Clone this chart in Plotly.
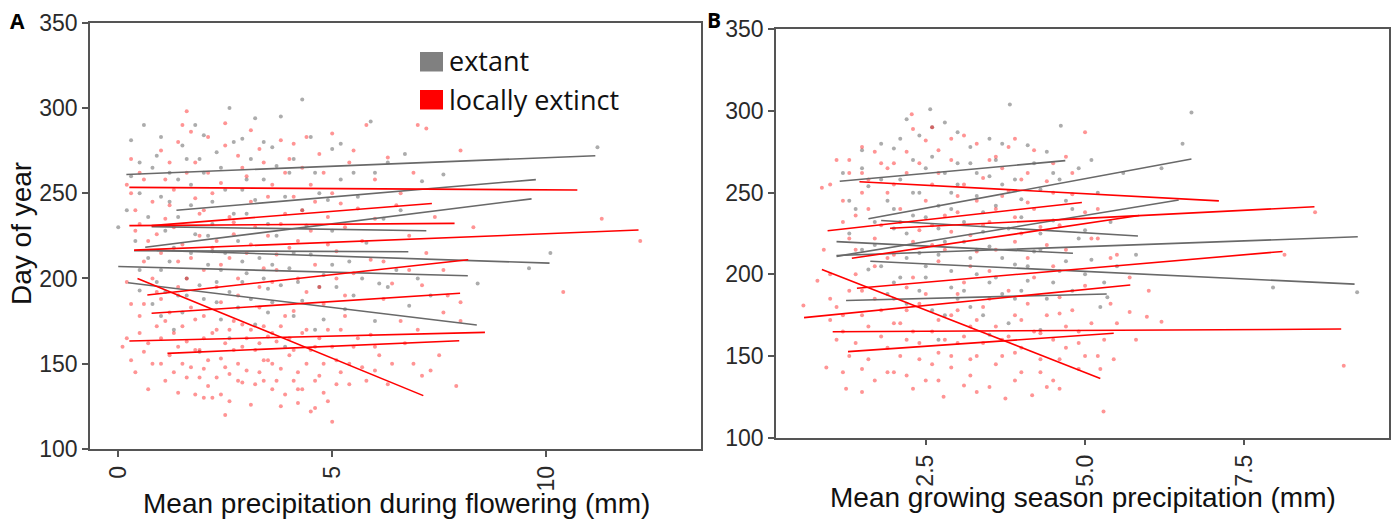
import plotly.graph_objects as go

# ---------------- Panel A: regression lines (precip during flowering) ----------------
A_gray_x0 = [0.19, 1.36, 0.63, 0.78, 0.37, 0.90, 0.00, 0.23]
A_gray_x1 = [11.15, 9.76, 9.66, 7.20, 6.78, 10.08, 8.17, 8.38]
A_gray_y0 = [261.0, 240.0, 218.3, 230.4, 216.3, 216.5, 207.0, 197.5]
A_gray_y1 = [272.0, 258.0, 246.7, 228.0, 215.7, 209.0, 201.6, 172.7]

A_red_x0 = [0.26, 0.78, 0.26, 0.37, 0.68, 0.78, 0.26, 1.15, 0.45]
A_red_x1 = [10.73, 7.33, 7.86, 12.16, 8.18, 7.99, 8.57, 7.97, 7.13]
A_red_y0 = [253.4, 231.0, 231.0, 216.6, 190.3, 179.6, 163.3, 156.1, 200.0]
A_red_y1 = [251.9, 244.0, 232.3, 228.4, 211.0, 191.3, 168.4, 163.5, 131.3]

# ---------------- Panel B: regression lines (growing season precip) ----------------
B_gray_x0 = [1.15, 1.60, 1.10, 1.80, 1.10, 1.63, 1.25, 1.10]
B_gray_x1 = [4.69, 6.67, 6.47, 5.83, 9.28, 9.23, 5.34, 4.81]
B_gray_y0 = [257.0, 234.0, 211.0, 233.0, 211.5, 208.0, 184.0, 220.0]
B_gray_y1 = [269.6, 270.6, 245.5, 223.5, 223.0, 194.0, 188.0, 212.9]

B_red_x0 = [1.46, 0.96, 1.94, 1.34, 1.42, 0.59, 1.04, 1.28, 0.87]
B_red_x1 = [7.10, 4.95, 8.60, 5.85, 8.10, 5.71, 9.02, 5.45, 5.24]
B_red_y0 = [256.7, 226.7, 228.2, 209.8, 191.5, 173.5, 164.9, 152.7, 203.0]
B_red_y1 = [245.0, 244.0, 241.4, 236.0, 214.0, 193.5, 166.5, 163.9, 136.3]

# ---------------- Panel A: observations ----------------
A_red_pts = [
    (0.5,262),(0.6,258),(0.3,250),(0.4,240),(1.0,275),(1.2,268),(1.5,290),(1.7,286),(2.1,283),(2.5,278),
    (2.8,272),(3.3,276),(3.8,281),(4.0,270),(4.3,265),(4.7,273),(5.0,285),(5.4,268),(5.8,290),(6.3,271),
    (6.9,262),(7.0,290),(7.2,288),(8.0,275),(0.8,245),(1.3,252),(1.8,247),(2.4,256),(3.0,260),(3.5,248),
    (4.5,255),(5.2,244),(6.0,258),(6.6,250),(1.1,235),(2.0,240),(2.7,233),(3.9,238),(4.9,236),(5.6,241),
    (7.4,236),(8.3,230),(11.3,235),(12.2,222),(10.4,192),(1.6,298),(3.1,287),(4.1,279),
    (0.4,228),(0.7,222),(1.0,215),(1.4,210),(1.9,225),(2.2,218),(2.6,212),(3.1,220),(3.4,206),(3.7,214),
    (4.2,222),(4.6,208),(5.1,216),(5.5,203),(5.9,211),(6.4,197),(6.8,205),(7.1,196),(7.7,190),(0.2,198),
    (0.9,192),(1.6,200),(2.3,195),(3.6,198),(4.4,192),(5.3,190),(6.2,188),(8.0,186),
    (0.1,160),(0.2,165),(0.5,178),(0.6,185),(0.9,172),(0.4,145),(0.7,135),(1.2,180),(1.3,168),(1.4,160),
    (1.5,150),(1.6,142),(1.8,176),(1.9,158),(2.0,147),(2.1,137),(2.2,130),(2.3,170),(2.4,153),(2.5,162),
    (2.6,144),(2.7,175),(2.8,150),(2.9,139),(3.0,165),(3.1,126),(3.2,158),(3.3,145),(3.4,172),(3.5,152),
    (3.6,135),(3.7,163),(3.8,147),(3.9,178),(4.0,155),(4.1,140),(4.2,127),(4.3,168),(4.4,150),(4.5,122),
    (4.6,160),(4.7,143),(4.8,133),(4.9,170),(5.0,116),(5.1,152),(5.2,145),(5.3,178),(5.5,160),(5.7,148),
    (5.9,167),(6.1,155),(6.3,138),(6.6,175),(6.9,150),(7.1,143),(7.3,146),(7.6,180),(7.9,137),(8.0,175),
    (1.0,188),(1.7,183),(2.4,186),(3.3,183),(4.1,181),(4.8,185),(2.0,165),(2.9,173),(3.6,168),(1.1,140),
    (0.3,152),(0.6,157),(1.8,132),(2.6,128),(3.4,140),(4.2,135),(5.4,138),(6.0,146),(1.4,195),(2.8,190),
    (0.2,255),(0.3,270),(0.5,232),(0.6,210),(0.8,200),(0.9,226),(1.1,258),(1.2,243),(1.3,230),(1.4,280),
    (1.5,220),(1.6,262),(1.7,212),(1.8,268),(1.9,238),(2.0,205),(2.1,262),(2.2,250),(2.3,222),(2.4,208),
    (2.5,291),(2.6,236),(2.7,226),(2.8,200),(2.9,265),(3.0,215),(3.1,245),(3.2,230),(3.3,195),(3.4,268),
    (3.5,225),(3.6,255),(3.7,205),(3.8,232),(3.9,262),(4.0,218),(4.1,248),(4.2,200),(4.3,240),(4.4,283),
    (4.5,228),(4.6,245),(4.7,195),(4.8,262),(4.9,220),(5.0,250),(5.1,200),(5.3,230),(5.5,275),(5.7,222),
    (6.0,235),(6.2,210),(6.5,243),(6.8,225),(7.2,215),(7.6,205),
    (0.3,185),(0.5,168),(0.7,162),(0.8,150),(1.0,165),(1.1,175),(1.2,155),(1.3,145),(1.4,133),(1.5,172),
    (1.6,163),(1.7,148),(1.8,158),(1.9,142),(2.0,178),(2.1,152),(2.2,168),(2.3,142),(2.4,132),(2.5,148),
    (2.6,170),(2.7,158),(2.8,140),(2.9,160),(3.0,146),(3.1,170),(3.2,138),(3.3,162),(3.4,152),(3.5,166),
    (3.6,150),(3.7,140),(3.8,172),(3.9,132),(4.0,165),(4.1,158),(4.2,145),(4.3,135),(4.4,170),(4.5,158),
    (4.6,140),(4.7,165),(4.8,150),(4.9,128),(5.0,160),(5.1,138),(5.2,170),(5.4,150),(5.6,165),(5.8,140),
    (6.0,160),(6.4,150),(6.7,162),(7.0,170),(7.5,155),(2.5,120),(3.8,125),(4.6,124),(1.0,150),(2.0,130),
]
A_gray_pts = [
    (0.0,230),(0.2,240),(0.3,281),(0.5,268),(0.6,290),(0.9,272),(1.0,248),(1.2,262),(1.4,236),(1.5,278),
    (1.7,255),(1.9,270),(2.0,284),(2.2,245),(2.4,265),(2.6,300),(2.7,280),(2.9,252),(3.1,270),(3.2,294),
    (3.4,258),(3.6,277),(3.8,295),(4.0,262),(4.3,305),(4.5,283),(4.7,250),(5.0,276),(5.2,279),(5.5,262),
    (5.9,292),(6.3,268),(6.7,273),(7.1,257),(7.6,261),(11.2,277),
    (0.4,222),(0.7,212),(1.0,205),(1.3,218),(1.6,200),(1.8,226),(2.1,208),(2.3,198),(2.5,215),(2.8,222),
    (3.0,203),(3.3,212),(3.5,194),(3.7,225),(4.0,206),(4.2,198),(4.5,214),(4.8,202),(5.1,195),(5.4,210),
    (5.7,200),(6.1,197),(6.5,205),(6.8,184),(7.3,190),(8.4,197),(9.6,206),(10.1,215),
    (0.8,185),(1.1,192),(1.5,180),(2.0,188),(2.4,176),(2.8,183),(3.2,173),(3.6,186),(4.1,178),(4.6,170),
    (5.3,182),(6.0,175),(1.3,170),(2.6,165),(3.9,160),(1.9,157),(0.5,193),(2.2,232),(3.0,238),(4.4,231),
    (5.0,228),(5.8,221),(6.2,235),(1.7,243),
    (0.3,260),(0.5,250),(0.7,236),(0.8,265),(1.0,283),(1.1,228),(1.2,245),(1.4,258),(1.6,270),(1.8,290),
    (2.0,262),(2.1,225),(2.3,274),(2.5,252),(2.7,238),(2.9,282),(3.0,258),(3.2,246),(3.4,280),(3.5,232),
    (3.7,266),(3.9,248),(4.1,270),(4.3,240),(4.6,262),(4.9,246),(5.2,258),(5.6,248),(6.0,262),(6.6,240),
    (0.5,205),(0.9,198),(1.2,210),(1.4,190),(1.7,215),(1.9,196),(2.2,216),(2.4,205),(2.6,192),(2.9,210),
    (3.1,188),(3.4,200),(3.6,208),(3.8,196),(4.1,215),(4.3,187),(4.7,195),(5.0,208),(5.5,190),(6.3,195),
    (7.0,200),(1.0,178),(2.3,186),(3.5,180),(4.8,176),(1.6,190),(2.9,198),
]

# ---------------- Panel B: observations ----------------
B_red_pts = [
    (1.1,270),(1.3,262),(1.5,278),(1.7,275),(2.0,268),(2.3,289),(2.5,282),(2.7,276),(2.9,270),(3.1,285),
    (3.3,280),(3.6,272),(3.9,283),(4.2,276),(4.5,268),(4.7,272),(2.28,298),(5.0,287),(0.87,253),(1.2,245),
    (1.6,258),(1.9,250),(2.2,262),(2.6,255),(3.0,248),(3.4,259),(3.8,251),(4.1,244),(4.4,257),(4.8,249),
    (5.2,240),(1.4,236),(1.8,230),(2.1,240),(2.4,227),(2.8,236),(3.2,224),(3.5,232),(3.9,220),(4.3,229),
    (4.7,215),(5.1,222),(5.5,212),(8.61,238),(8.13,212),(0.9,215),(1.3,222),(1.7,205),(2.0,212),(2.3,198),
    (2.7,208),(3.1,195),(3.5,202),(3.8,190),(4.2,198),(4.6,186),(5.0,193),(5.4,182),(5.7,177),(6.2,171),
    (5.97,174),(0.58,181),(0.8,196),(1.0,185),(1.2,175),(1.5,190),(1.8,178),(2.1,170),(2.4,182),(2.6,165),
    (2.9,175),(3.2,168),(3.4,180),(3.7,160),(4.0,172),(4.3,164),(4.6,176),(4.9,158),(5.2,150),(1.1,160),
    (1.3,150),(1.5,142),(1.6,168),(1.9,155),(2.0,140),(2.2,160),(2.4,148),(2.5,135),(2.7,152),(2.78,125),
    (2.9,143),(3.0,158),(3.2,138),(3.3,150),(3.5,131),(3.6,145),(3.75,124),(3.9,152),(4.0,140),(4.17,126),
    (4.3,148),(4.5,135),(4.7,155),(4.9,142),(5.24,142),(5.45,148),(5.29,116),(1.25,130),(0.94,143),(9.06,144),
    (1.7,135),(2.3,130),(3.1,132),(4.4,131),(2.0,185),(3.0,188),(4.5,205),(2.6,218),(1.5,250),(3.7,265),
    (4.0,258),(1.0,200),(1.4,200),(2.2,192),(3.3,214),(4.1,210),(2.9,226),(3.6,240),(1.9,265),(2.6,290),
    (1.0,255),(1.2,232),(1.3,270),(1.4,215),(1.5,262),(1.6,240),(1.7,222),(1.8,268),(1.9,210),(2.0,255),
    (2.1,232),(2.2,275),(2.3,220),(2.4,268),(2.5,245),(2.6,230),(2.7,262),(2.8,215),(2.9,283),(3.0,238),
    (3.1,255),(3.2,205),(3.3,245),(3.4,230),(3.5,270),(3.6,215),(3.7,248),(3.8,278),(3.9,235),(4.0,225),
    (4.1,262),(4.2,240),(4.4,218),(4.5,250),(4.6,230),(4.8,262),(5.0,238),(5.2,222),(5.4,210),(5.7,198),
    (6.0,190),
    (1.0,172),(1.1,180),(1.2,165),(1.3,190),(1.4,158),(1.5,175),(1.6,148),(1.7,185),(1.8,162),(1.9,140),
    (2.0,170),(2.1,150),(2.2,178),(2.3,165),(2.4,158),(2.5,188),(2.6,145),(2.7,172),(2.8,160),(2.9,150),
    (3.0,178),(3.1,162),(3.2,148),(3.3,172),(3.4,158),(3.5,185),(3.6,168),(3.7,150),(3.8,162),(3.9,175),
    (4.0,155),(4.1,182),(4.2,165),(4.3,140),(4.4,175),(4.5,160),(4.6,148),(4.7,168),(4.8,178),(4.9,165),
    (5.0,150),(5.1,170),(5.3,160),(5.5,170),(5.8,160),(1.5,128),(2.2,138),(3.3,128),(3.9,135),(4.6,130),
    (2.7,135),(1.2,140),
]
B_gray_pts = [
    (3.82,304),(2.57,301),(6.67,299),(6.53,280),(4.62,291),(2.2,295),(2.8,293),(3.0,287),(2.4,285),(1.8,280),
    (1.5,276),(2.0,277),(2.6,272),(3.2,278),(3.5,283),(4.1,279),(4.4,275),(3.6,270),(4.9,265),(5.6,262),
    (5.1,270),(1.2,262),(1.6,254),(2.1,258),(2.5,265),(2.9,250),(3.3,262),(3.7,255),(4.0,246),(4.3,252),
    (4.8,240),(1.4,240),(1.9,245),(2.3,236),(2.7,242),(3.1,232),(3.4,238),(3.8,228),(4.5,233),(5.0,227),
    (1.3,225),(1.7,218),(2.0,228),(2.4,213),(2.8,220),(3.2,210),(3.5,217),(3.9,206),(4.2,214),(4.6,202),
    (5.1,209),(5.8,212),(1.6,203),(2.1,198),(2.5,205),(2.9,192),(3.3,200),(3.7,188),(4.1,196),(4.4,185),
    (4.8,190),(5.35,186),(5.24,180),(5.3,195),(7.95,192),(9.27,189),(2.2,182),(2.6,178),(3.0,185),(3.4,175),
    (1.9,188),(3.8,170),(4.3,166),(2.7,160),(3.5,163),(2.3,250),(3.0,268),(4.6,258),(5.4,232),(6.2,265),
    (1.3,245),(1.5,265),(1.7,232),(1.8,258),(2.0,240),(2.1,283),(2.2,225),(2.3,270),(2.4,250),(2.5,235),
    (2.6,290),(2.7,228),(2.8,262),(2.9,240),(3.0,255),(3.1,220),(3.2,268),(3.3,248),(3.4,226),(3.5,260),
    (3.6,242),(3.7,280),(3.9,258),(4.0,235),(4.2,268),(4.3,225),(4.5,262),(4.7,245),(4.9,222),(5.2,250),
    (1.5,215),(1.8,205),(2.0,195),(2.2,210),(2.5,198),(2.7,212),(2.9,202),(3.1,190),(3.3,215),(3.5,195),
    (3.7,210),(3.9,185),(4.1,205),(4.3,215),(4.5,195),(4.7,208),(5.0,200),(5.5,205),(2.4,190),(3.2,180),
    (3.6,198),(4.0,190),(2.8,175),
]

y_ticks = [100, 150, 200, 250, 300, 350]
A_x_ticks = [0, 5, 10]
B_x_ticks = [2.5, 5.0, 7.5]
B_x_ticklabels = ["2.5", "5.0", "7.5"]

GRAY_LINE = "rgb(105,105,105)"
RED_LINE = "rgb(255,0,0)"
GRAY_PT = "rgba(90,90,90,0.5)"
RED_PT = "rgba(255,0,0,0.42)"


def seg(x0, x1, y0, y1):
    xs, ys = [], []
    for a, b, c, d in zip(x0, x1, y0, y1):
        xs += [a, b, None]
        ys += [c, d, None]
    return xs, ys


fig = go.Figure()


def add_points(pts, color, xa, ya):
    fig.add_trace(go.Scatter(
        x=[p[0] for p in pts], y=[p[1] for p in pts], mode="markers",
        marker=dict(size=4, color=color, line=dict(width=0)),
        xaxis=xa, yaxis=ya, showlegend=False, hoverinfo="skip"))


def add_lines(x0, x1, y0, y1, color, xa, ya):
    xs, ys = seg(x0, x1, y0, y1)
    fig.add_trace(go.Scatter(x=xs, y=ys, mode="lines", line=dict(color=color, width=1.6),
                             xaxis=xa, yaxis=ya, showlegend=False, hoverinfo="skip"))


add_points(A_gray_pts, GRAY_PT, "x", "y")
add_points(A_red_pts, RED_PT, "x", "y")
add_lines(A_gray_x0, A_gray_x1, A_gray_y0, A_gray_y1, GRAY_LINE, "x", "y")
add_lines(A_red_x0, A_red_x1, A_red_y0, A_red_y1, RED_LINE, "x", "y")

add_points(B_gray_pts, GRAY_PT, "x2", "y2")
add_points(B_red_pts, RED_PT, "x2", "y2")
add_lines(B_gray_x0, B_gray_x1, B_gray_y0, B_gray_y1, GRAY_LINE, "x2", "y2")
add_lines(B_red_x0, B_red_x1, B_red_y0, B_red_y1, RED_LINE, "x2", "y2")

W, H = 1391, 519
FRAME = "#555555"
tickfont = dict(family="Liberation Sans, Arial, sans-serif", size=23, color="#2a2a2a")

ax_common = dict(showline=True, mirror=True, linecolor=FRAME, linewidth=1.5,
                 ticks="outside", ticklen=6, tickcolor=FRAME, tickwidth=1.5,
                 showgrid=False, zeroline=False, tickfont=tickfont, automargin=False)

fig.update_layout(
    width=W, height=H,
    margin=dict(l=0, r=0, t=0, b=0),
    paper_bgcolor="white", plot_bgcolor="white",
    showlegend=False,
    xaxis=dict(domain=[90 / W, 701 / W], range=[-0.66, 13.62], tickvals=A_x_ticks,
               tickangle=-90, anchor="y", **ax_common),
    yaxis=dict(domain=[(H - 449) / H, (H - 22.7) / H], range=[100, 350], tickvals=y_ticks,
               anchor="x", **ax_common),
    xaxis2=dict(domain=[776 / W, 1389 / W], range=[0.15, 9.77], tickvals=B_x_ticks,
                ticktext=B_x_ticklabels, tickangle=-90, anchor="y2", **ax_common),
    yaxis2=dict(domain=[(H - 437.7) / H, (H - 29.3) / H], range=[100, 350], tickvals=y_ticks,
                anchor="x2", **ax_common),
)

title_font = dict(family="Liberation Sans, Arial, sans-serif", size=28, color="#111111")
legend_font = dict(family="Open Sans, Noto Sans, sans-serif", size=27, color="#111111")

annotations = [
    dict(text="<b>A</b>", x=8 / W, y=1 - 21 / H, xanchor="left", yanchor="middle",
         font=dict(family="Open Sans, sans-serif", size=21, color="black")),
    dict(text="<b>B</b>", x=705 / W, y=1 - 20 / H, xanchor="left", yanchor="middle",
         font=dict(family="Open Sans, sans-serif", size=21, color="black")),
    dict(text="Day of year", x=21 / W, y=1 - 234 / H, textangle=-90, xanchor="center",
         yanchor="middle", font=title_font),
    dict(text="Mean precipitation during flowering (mm)", x=396 / W, y=1 - 503 / H,
         xanchor="center", yanchor="middle", font=title_font),
    dict(text="Mean growing season precipitation (mm)", x=1083 / W, y=1 - 497 / H,
         xanchor="center", yanchor="middle", font=title_font),
    dict(text="extant", x=447 / W, y=1 - 61 / H, xanchor="left", yanchor="middle", font=legend_font),
    dict(text="locally extinct", x=447 / W, y=1 - 100 / H, xanchor="left", yanchor="middle",
         font=legend_font),
]
for a in annotations:
    a.update(xref="paper", yref="paper", showarrow=False)
fig.update_layout(annotations=annotations)

fig.update_layout(shapes=[
    dict(type="rect", xref="paper", yref="paper", x0=420 / W, x1=443 / W,
         y0=1 - 71.5 / H, y1=1 - 52 / H, fillcolor="rgb(128,128,128)", line=dict(width=0)),
    dict(type="rect", xref="paper", yref="paper", x0=420 / W, x1=443 / W,
         y0=1 - 109.5 / H, y1=1 - 90 / H, fillcolor="rgb(255,0,0)", line=dict(width=0)),
])

fig.write_html(
    "out.html",
    config={"displayModeBar": False},
    post_script="document.body.style.margin='0px';document.body.style.overflow='hidden';",
)
